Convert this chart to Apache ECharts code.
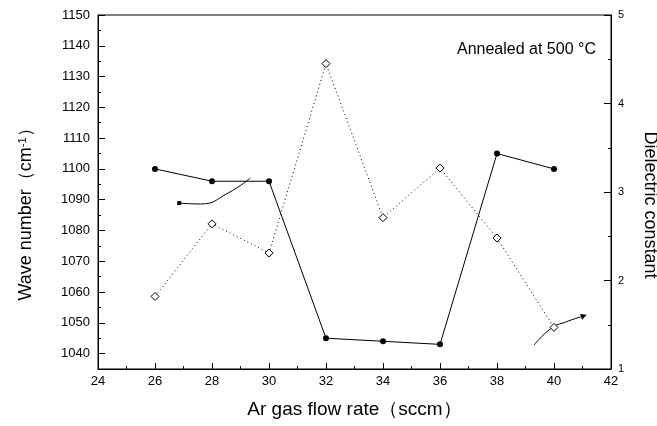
<!DOCTYPE html>
<html>
<head>
<meta charset="utf-8">
<title>Wave number and dielectric constant vs Ar gas flow rate</title>
<script src="https://cdn.jsdelivr.net/npm/echarts@6/dist/echarts.min.js"></script>
<style>
  html, body { margin: 0; padding: 0; background: #fff; }
  #chart { width: 657px; height: 426px; }
</style>
</head>
<body>
<div id="chart"></div>
<script>
// Ar gas flow rate (sccm)
const flowRate = [26, 28, 30, 32, 34, 36, 38, 40];
// Si-O-Si stretching wave number (cm^-1), left axis
const waveNumber = [1100, 1096, 1096, 1045, 1044, 1043, 1105, 1100];
// Dielectric constant, right axis
const dielectric = [1.82, 2.64, 2.31, 4.45, 2.71, 3.27, 2.48, 1.47];

// Pointer curves showing which axis each series belongs to
const leftPointer = [[26.85, 1088.9], [27.6, 1088.6], [28.57, 1092.2], [29.34, 1097.0]];
const rightPointer = [[39.3, 1.27], [39.9, 1.46], [40.4, 1.53], [41.05, 1.6]];

// Axis ranges
const xRange = { min: 24, max: 42, step: 2 };
const waveRange = { min: 1035, max: 1150, labelMin: 1040, step: 10 };
const dielRange = { min: 1, max: 5, step: 1 };

const FONT = "'Liberation Sans', Arial, sans-serif";
const INK = '#000';
const plain = v => String(v);

// Plot frame in pixels
const frame = { left: 98, right: 46, top: 15, bottom: 57 };
const plotH = 426 - frame.top - frame.bottom;
// second grid carries the major left ticks/labels, starting at the first labelled value
const labelGridBottom = frame.bottom +
  (waveRange.labelMin - waveRange.min) / (waveRange.max - waveRange.min) * plotH;

const chart = echarts.init(document.getElementById('chart'), null, { renderer: 'canvas' });

chart.setOption({
  animation: false,
  backgroundColor: '#fff',
  textStyle: { fontFamily: FONT, color: INK },
  title: {
    text: 'Annealed at 500 °C',
    left: 452,
    top: 37,
    textStyle: { fontFamily: FONT, fontSize: 16, fontWeight: 'normal', color: INK }
  },
  grid: [
    { left: frame.left, right: frame.right, top: frame.top, bottom: frame.bottom,
      outerBoundsMode: 'none', containLabel: false,
      show: true, borderColor: INK, borderWidth: 1, backgroundColor: 'transparent' },
    { left: frame.left, right: frame.right, top: frame.top, bottom: labelGridBottom,
      outerBoundsMode: 'none', containLabel: false,
      show: false }
  ],
  xAxis: [
    {
      type: 'value', gridIndex: 0,
      min: xRange.min, max: xRange.max, interval: xRange.step,
      name: 'Ar gas flow rate（sccm）',
      nameLocation: 'middle', nameGap: 31,
      nameTextStyle: { fontFamily: FONT, fontSize: 19, color: INK },
      axisLine: { lineStyle: { color: INK, width: 1 } },
      axisTick: { inside: true, length: 6, lineStyle: { color: INK } },
      minorTick: { show: true, splitNumber: 2, length: 3, lineStyle: { color: INK } },
      axisLabel: { fontFamily: FONT, fontSize: 13, color: INK, margin: 6, formatter: plain },
      splitLine: { show: false }
    },
    {
      type: 'value', gridIndex: 1, show: false,
      min: xRange.min, max: xRange.max
    }
  ],
  yAxis: [
    {
      type: 'value', gridIndex: 0, position: 'left',
      min: waveRange.min, max: waveRange.max, interval: waveRange.step / 2,
      name: 'Wave number（cm{sup|-1}）',
      nameLocation: 'middle', nameGap: 62, nameRotate: 90,
      nameTextStyle: {
        fontFamily: FONT, fontSize: 18, color: INK,
        padding: [0, 36, 0, 0],
        rich: { sup: { fontFamily: FONT, fontSize: 11, color: INK, verticalAlign: 'top', padding: [0, 0, 8, 0] } }
      },
      axisLine: { show: true, lineStyle: { color: INK, width: 1 } },
      axisTick: { inside: true, length: 3, lineStyle: { color: INK } },
      axisLabel: { show: false },
      splitLine: { show: false }
    },
    {
      type: 'value', gridIndex: 0, position: 'right',
      min: dielRange.min, max: dielRange.max, interval: dielRange.step,
      name: 'Dielectric constant',
      nameLocation: 'middle', nameGap: 30, nameRotate: -90,
      nameTextStyle: { fontFamily: FONT, fontSize: 18, color: INK, padding: [0, 0, 0, 26] },
      axisLine: { show: true, lineStyle: { color: INK, width: 1 } },
      axisTick: { inside: true, length: 7, lineStyle: { color: INK } },
      minorTick: { show: true, splitNumber: 2, length: 3, lineStyle: { color: INK } },
      axisLabel: { fontFamily: FONT, fontSize: 11, color: INK, margin: 7, formatter: plain },
      splitLine: { show: false }
    },
    {
      type: 'value', gridIndex: 1, position: 'left',
      min: waveRange.labelMin, max: waveRange.max, interval: waveRange.step,
      axisLine: { show: false },
      axisTick: { inside: true, length: 7, lineStyle: { color: INK } },
      axisLabel: { fontFamily: FONT, fontSize: 13, color: INK, margin: 8, formatter: plain },
      splitLine: { show: false }
    }
  ],
  series: [
    {
      name: 'Wave number',
      type: 'line', xAxisIndex: 0, yAxisIndex: 0,
      data: flowRate.map((x, i) => [x, waveNumber[i]]),
      symbol: 'circle', symbolSize: 6,
      itemStyle: { color: INK },
      lineStyle: { color: INK, width: 1 },
      z: 3
    },
    {
      name: 'Dielectric constant',
      type: 'line', xAxisIndex: 0, yAxisIndex: 1,
      data: flowRate.map((x, i) => [x, dielectric[i]]),
      symbol: 'diamond', symbolSize: 8,
      itemStyle: { color: '#fff', borderColor: INK, borderWidth: 1 },
      lineStyle: { color: INK, width: 1, type: [1, 3] },
      z: 3
    },
    {
      type: 'line', xAxisIndex: 0, yAxisIndex: 0,
      data: leftPointer,
      smooth: 0.5,
      symbol: (v, p) => p.dataIndex === 0 ? 'rect' : 'none',
      symbolSize: 4,
      itemStyle: { color: INK },
      lineStyle: { color: INK, width: 1 },
      silent: true
    },
    {
      type: 'line', xAxisIndex: 0, yAxisIndex: 1,
      data: rightPointer,
      smooth: 0.5,
      symbol: (v, p) => p.dataIndex === rightPointer.length - 1 ? 'triangle' : 'none',
      symbolRotate: -70,
      symbolSize: 6,
      itemStyle: { color: INK },
      lineStyle: { color: INK, width: 1 },
      silent: true
    }
  ]
});
</script>
</body>
</html>
